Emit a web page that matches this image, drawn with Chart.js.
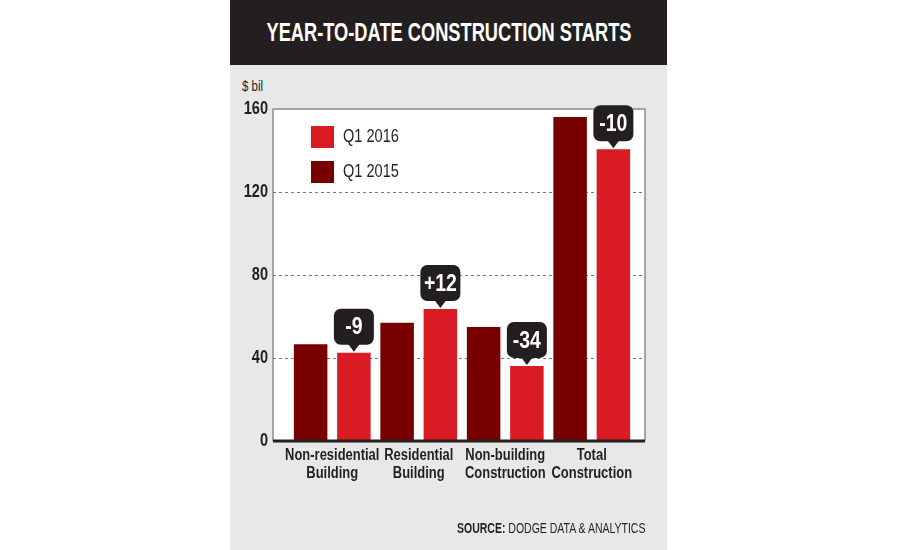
<!DOCTYPE html>
<html>
<head>
<meta charset="utf-8">
<script src="https://cdn.jsdelivr.net/npm/chart.js@4"></script>
<style>
  html, body { margin: 0; padding: 0; background: #fff; }
  body { width: 900px; height: 550px; position: relative; overflow: hidden;
         font-family: "Liberation Sans", Arial, sans-serif; }
  #panel { position: absolute; left: 230px; top: 0; width: 437px; height: 550px; background: #e8e8e8; }
  #titlebar { position: relative; height: 65px; background: #231f20; }
  #title { position: absolute; left: 50%; top: 0; color: #fff; font-weight: bold; font-size: 25px;
           line-height: 65px; white-space: nowrap; transform: translateX(-50%) scaleX(0.73); }
  .squeeze { transform-origin: left center; white-space: nowrap; }
  #unit { position: absolute; left: 12px; top: 78px; font-size: 14px; line-height: 16px; color: #231f20;
          transform: scaleX(0.82); }
  #chart { position: absolute; left: 0; top: 65px; }
  #source { position: absolute; left: 227px; top: 520px; font-size: 14px; line-height: 16px; color: #231f20;
            transform: scaleX(0.75); }
</style>
</head>
<body>
<div id="panel">
  <div id="titlebar"><div id="title">YEAR-TO-DATE CONSTRUCTION STARTS</div></div>
  <div id="unit" class="squeeze">$ bil</div>
  <canvas id="chart" width="437" height="485"></canvas>
  <div id="source" class="squeeze"><b>SOURCE:</b> DODGE DATA &amp; ANALYTICS</div>
</div>
<script>
const categories = [
    ['Non-residential', 'Building'],
    ['Residential', 'Building'],
    ['Non-building', 'Construction'],
    ['Total', 'Construction']
];
const q1_2015 = [46.6, 57.0, 54.9, 156.1];
const q1_2016 = [42.5, 63.6, 36.2, 140.6];
const changeLabels = ['-9', '+12', '-34', '-10'];
const yTicks = [0, 40, 80, 120, 160];

const DARK = '#231f20';
const FONT = '"Liberation Sans", Arial, sans-serif';

// no condensed face is installed, so squeeze all canvas text horizontally
const canvas = document.getElementById('chart');
const ctx2d = canvas.getContext('2d');
const SQUEEZE = 0.81;
const rawFillText = ctx2d.fillText;
ctx2d.fillText = function (text, x, y, maxWidth) {
    const w = this.measureText(text).width * SQUEEZE;
    rawFillText.call(this, text, x, y, maxWidth === undefined ? w : Math.min(w, maxWidth));
};

// white plot box, frame and dashed grid lines (box is a bit wider than the bars)
const framePlugin = {
    id: 'frame',
    beforeDatasetsDraw(chart) {
        const { ctx, chartArea: a, scales } = chart;
        const x0 = a.left - 16, x1 = a.right + 10;
        ctx.save();
        ctx.fillStyle = '#fff';
        ctx.fillRect(x0, a.top, x1 - x0, a.bottom - a.top);
        ctx.strokeStyle = '#8c8c8c';
        ctx.lineWidth = 1.5;
        ctx.beginPath();
        ctx.moveTo(x0, a.bottom);
        ctx.lineTo(x0, a.top);
        ctx.lineTo(x1, a.top);
        ctx.lineTo(x1, a.bottom);
        ctx.stroke();
        ctx.strokeStyle = '#777';
        ctx.lineWidth = 1;
        ctx.setLineDash([3, 3]);
        yTicks.slice(1, -1).forEach(v => {
            const y = Math.round(scales.y.getPixelForValue(v)) + 0.5;
            ctx.beginPath();
            ctx.moveTo(x0, y);
            ctx.lineTo(x1, y);
            ctx.stroke();
        });
        ctx.restore();
    },
    afterDatasetsDraw(chart) {
        const { ctx, chartArea: a } = chart;
        ctx.save();
        // baseline
        ctx.strokeStyle = DARK;
        ctx.lineWidth = 3;
        ctx.beginPath();
        ctx.moveTo(a.left - 16, a.bottom);
        ctx.lineTo(a.right + 10, a.bottom);
        ctx.stroke();

        // callouts on the 2016 bars
        const bars = chart.getDatasetMeta(1).data;
        bars.forEach((bar, i) => {
            const w = 40, h = 36, r = 7;
            const bx = bar.x - w / 2, by = bar.y - 8 - h;
            ctx.fillStyle = DARK;
            ctx.beginPath();
            ctx.roundRect(bx, by, w, h, r);
            ctx.fill();
            ctx.beginPath();
            ctx.moveTo(bar.x - 6, by + h - 1);
            ctx.lineTo(bar.x + 6, by + h - 1);
            ctx.lineTo(bar.x, bar.y - 1);
            ctx.closePath();
            ctx.fill();
            ctx.fillStyle = '#fff';
            ctx.font = 'bold 24px ' + FONT;
            ctx.textAlign = 'center';
            ctx.textBaseline = 'middle';
            ctx.fillText(changeLabels[i], bar.x, by + h / 2 + 1);
        });

        // legend inside plot, newest first
        const order = [1, 0];
        order.forEach((d, k) => {
            const ds = chart.data.datasets[d];
            const x = a.left + 22, y = a.top + 17 + k * 35;
            ctx.fillStyle = ds.backgroundColor;
            ctx.fillRect(x, y, 23, 22);
            ctx.fillStyle = DARK;
            ctx.font = '18px ' + FONT;
            ctx.textAlign = 'left';
            ctx.textBaseline = 'middle';
            ctx.fillText(ds.label, x + 32, y + 11);
        });
        ctx.restore();
    }
};

new Chart(canvas, {
    type: 'bar',
    data: {
        labels: categories,
        datasets: [
            { label: 'Q1 2015', data: q1_2015, backgroundColor: '#790000' },
            { label: 'Q1 2016', data: q1_2016, backgroundColor: '#d91c24' }
        ]
    },
    options: {
        responsive: false,
        animation: false,
        events: [],
        layout: { padding: { left: 0, right: 32, top: 44, bottom: 0 } },
        datasets: { bar: { barPercentage: 0.775, categoryPercentage: 1, borderWidth: 0 } },
        plugins: {
            legend: { display: false },
            title: { display: false },
            tooltip: { enabled: false }
        },
        scales: {
            x: {
                grid: { display: false, drawTicks: false },
                border: { display: false },
                ticks: {
                    color: DARK,
                    padding: 6,
                    maxRotation: 0,
                    autoSkip: false,
                    font: { family: FONT, size: 16, weight: 'bold', lineHeight: 1.125 }
                },
                afterFit(scale) { scale.height = 109; }
            },
            y: {
                min: 0,
                max: 160,
                grid: { display: false, drawTicks: false },
                border: { display: false },
                afterBuildTicks(scale) { scale.ticks = yTicks.map(v => ({ value: v })); },
                ticks: {
                    color: DARK,
                    padding: 21,
                    font: { family: FONT, size: 18, weight: 'bold' }
                },
                afterFit(scale) { scale.width = 59; }
            }
        }
    },
    plugins: [framePlugin]
});
</script>
</body>
</html>
